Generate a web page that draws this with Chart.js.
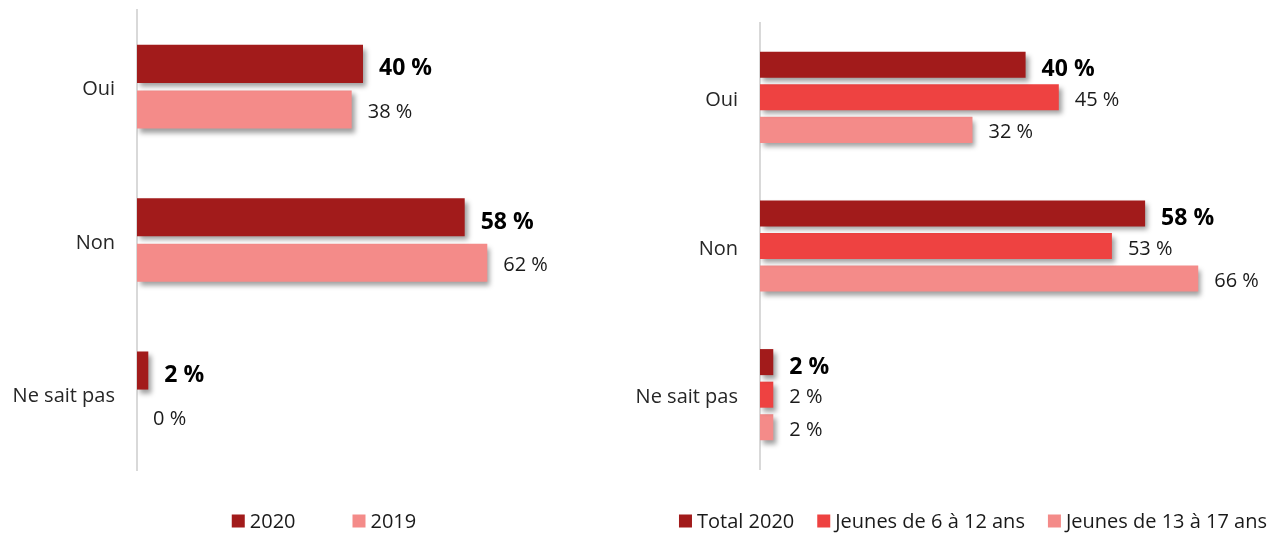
<!DOCTYPE html>
<html><head><meta charset="utf-8">
<script src="https://cdn.jsdelivr.net/npm/chart.js@4"></script>
<style>
html,body{margin:0;padding:0;background:#fff;width:1283px;height:534px;overflow:hidden}
#w1{position:absolute;left:0;top:0;width:620px;height:534px}
#w2{position:absolute;left:620px;top:0;width:663px;height:534px}
</style></head><body>
<div id="w1"><canvas id="c1"></canvas></div>
<div id="w2"><canvas id="c2"></canvas></div>
<script>
const categories = ['Oui', 'Non', 'Ne sait pas'];
const leftSeriesLabels = ['2020', '2019'];
const left2020 = [40, 58, 2];
const left2019 = [38, 62, 0];
const rightSeriesLabels = ['Total 2020', 'Jeunes de 6 à 12 ans', 'Jeunes de 13 à 17 ans'];
const rightTotal2020 = [40, 58, 2];
const rightJeunes6a12 = [45, 53, 2];
const rightJeunes13a17 = [32, 66, 2];
const valueSuffix = ' %';

const FONT = "'Open Sans', 'Noto Sans', sans-serif";
const DARK = '#A21B1B', MID = '#EE4241', PINK = '#F48B89';

const valueLabels = {
  id: 'valueLabels',
  beforeDatasetsDraw(chart) {
    const ctx = chart.ctx;
    ctx.save();
    ctx.shadowColor = 'rgba(0,0,0,0.38)';
    ctx.shadowBlur = 5;
    ctx.shadowOffsetX = 3;
    ctx.shadowOffsetY = 4;
  },
  afterDatasetsDraw(chart, args, opts) {
    const ctx = chart.ctx;
    ctx.restore();
    ctx.save();
    chart.data.datasets.forEach((ds, i) => {
      const meta = chart.getDatasetMeta(i);
      const bold = i === 0;
      ctx.font = (bold ? 'bold ' + opts.boldSize : opts.size) + 'px ' + FONT;
      ctx.fillStyle = bold ? '#000000' : '#1a1a1a';
      ctx.textAlign = 'left';
      ctx.textBaseline = 'alphabetic';
      const dy = bold ? opts.boldDy : opts.dy;
      meta.data.forEach((el, j) => {
        ctx.fillText(ds.data[j] + valueSuffix, el.x + opts.offset, el.y + dy);
      });
    });
    ctx.restore();
  }
};

const boxLegend = {
  id: 'boxLegend',
  afterDraw(chart, args, opts) {
    const ctx = chart.ctx;
    ctx.save();
    ctx.font = opts.size + 'px ' + FONT;
    const items = chart.data.datasets.map(d => ({text: d.label, color: d.backgroundColor, w: ctx.measureText(d.label).width}));
    const itemW = it => opts.box + opts.textGap + it.w;
    const total = items.reduce((s, it) => s + itemW(it), 0) + opts.itemGap * (items.length - 1);
    let x = opts.centerX - total / 2;
    items.forEach(it => {
      ctx.fillStyle = it.color;
      ctx.fillRect(x, opts.y - opts.box / 2, opts.box, opts.box);
      ctx.fillStyle = '#1a1a1a';
      ctx.textBaseline = 'middle';
      ctx.textAlign = 'left';
      ctx.fillText(it.text, x + opts.box + opts.textGap, opts.y + 1);
      x += itemW(it) + opts.itemGap;
    });
    ctx.restore();
  }
};

function makeChart(id, datasets, cfg) {
  return new Chart(document.getElementById(id), {
    type: 'bar',
    data: {labels: categories, datasets},
    options: {
      indexAxis: 'y',
      responsive: true,
      maintainAspectRatio: false,
      animation: false,
      datasets: {bar: {categoryPercentage: cfg.cat, barPercentage: cfg.bar, borderWidth: 0}},
      layout: {padding: cfg.padding},
      scales: {
        x: {display: false, min: 0, max: cfg.max},
        y: {
          grid: {display: false, drawTicks: false},
          border: {display: true, color: '#D9D9D9', width: 2},
          ticks: {padding: 22, labelOffset: 3, color: '#262626', font: {family: FONT, size: 20}},
          afterFit(s) { s.width = cfg.axisWidth; s.paddingTop = 0; s.paddingBottom = 0; }
        }
      },
      plugins: {
        legend: {display: false},
        tooltip: {enabled: false},
        valueLabels: {offset: 16, size: 20, boldSize: 23, dy: 8.6, boldDy: 11.5},
        boxLegend: {centerX: cfg.legendX, y: 521, box: 13, textGap: 5, itemGap: cfg.itemGap, size: 20}
      }
    },
    plugins: [valueLabels, boxLegend]
  });
}

makeChart('c1', [
  {label: leftSeriesLabels[0], data: left2020, backgroundColor: DARK},
  {label: leftSeriesLabels[1], data: left2019, backgroundColor: PINK}
], {cat: 0.595, bar: 0.835, max: 80, axisWidth: 137, padding: {top: 10, bottom: 64, left: 0, right: 31}, legendX: 324, itemGap: 57});

makeChart('c2', [
  {label: rightSeriesLabels[0], data: rightTotal2020, backgroundColor: DARK},
  {label: rightSeriesLabels[1], data: rightJeunes6a12, backgroundColor: MID},
  {label: rightSeriesLabels[2], data: rightJeunes13a17, backgroundColor: PINK}
], {cat: 0.657, bar: 0.8, max: 75, axisWidth: 140, padding: {top: 23, bottom: 65, left: 0, right: 25}, legendX: 353, itemGap: 23});
</script>
</body></html>
